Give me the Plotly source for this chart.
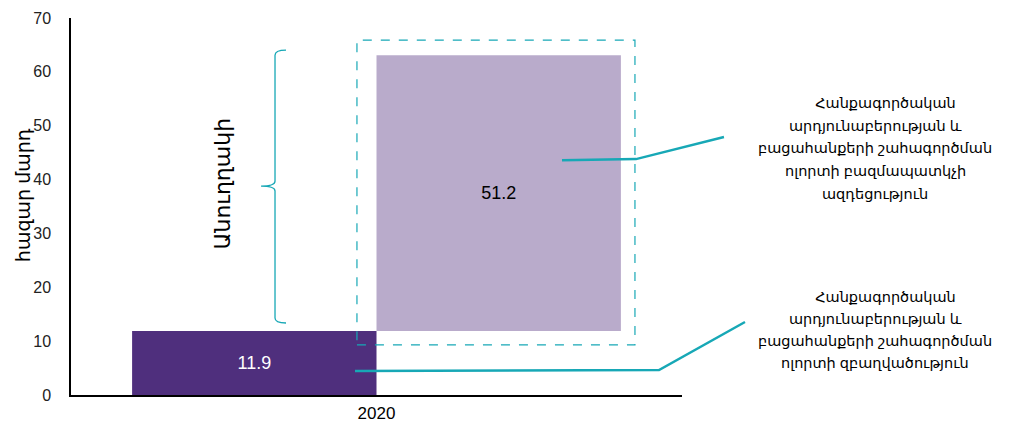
import plotly.graph_objects as go

categories = ["2020"]
direct_values = [11.9]
indirect_values = [51.2]
y_ticks = [0, 10, 20, 30, 40, 50, 60, 70]

y_title = "հազար մարդ"
brace_label = "Անուղղակի"
IND = "\u00a0" * 5
note_indirect_lines = [IND + "Հանքագործական", "արդյունաբերության և", "բացահանքերի շահագործման",
                       "ոլորտի բազմապատկչի", "ազդեցություն"]
note_direct_lines = [IND + "Հանքագործական", "արդյունաբերության և", "բացահանքերի շահագործման",
                     "ոլորտի զբաղվածություն"]

DARK = "#4F2F7D"
LIGHT = "#B9ABCB"
TEAL = "#17A8B6"
FONT = "Liberation Sans, Arial, DejaVu Sans, sans-serif"

fig = go.Figure()
fig.add_trace(go.Bar(
    x=categories, y=direct_values, base=[0],
    marker=dict(color=DARK, line=dict(width=0)),
    text=[f"{v:.1f}" for v in direct_values], textposition="inside",
    insidetextanchor="middle", textfont=dict(color="white", size=18, family=FONT),
    showlegend=False, hoverinfo="skip"))
fig.add_trace(go.Bar(
    x=categories, y=indirect_values, base=direct_values,
    marker=dict(color=LIGHT, line=dict(width=0)),
    text=[f"{v:.1f}" for v in indirect_values], textposition="inside",
    insidetextanchor="middle", textfont=dict(color="black", size=18, family=FONT),
    showlegend=False, hoverinfo="skip"))

shapes = []
# dashed box around indirect bar
shapes.append(dict(type="rect", xref="paper", yref="y", x0=0.468, x1=0.923,
                   y0=9.3, y1=65.9, line=dict(color=TEAL, width=1.2, dash="dash"),
                   fillcolor="rgba(0,0,0,0)", layer="above"))
# brace
bx, hx, tx = 0.3339, 0.3519, 0.311
brace = (f"M {hx},64.05 Q {bx},64.05 {bx},63.1 L {bx},39.7 "
         f"Q {bx},38.8 {tx},38.8 Q {bx},38.8 {bx},37.9 L {bx},14.3 "
         f"Q {bx},13.37 {hx},13.37")
shapes.append(dict(type="path", xref="paper", yref="y", path=brace,
                   line=dict(color=TEAL, width=1.3)))
# leader lines
shapes.append(dict(type="path", xref="paper", yref="y",
                   path="M 0.8036,43.6 L 0.9247,43.8 L 1.0687,47.9",
                   line=dict(color=TEAL, width=2.5)))
shapes.append(dict(type="path", xref="paper", yref="y",
                   path="M 0.4648,4.46 L 0.9624,4.64 L 1.1031,13.55",
                   line=dict(color=TEAL, width=2.5)))

annotations = [
    dict(text=y_title, xref="paper", yref="y", x=-0.0786, y=37.1, textangle=-90,
         xanchor="center", yanchor="middle",
         showarrow=False, font=dict(size=19, color="black", family=FONT)),
    dict(text=brace_label, xref="paper", yref="y", x=0.248, y=39.2, textangle=-90,
         xanchor="center", yanchor="middle",
         showarrow=False, font=dict(size=22, color="black", family=FONT)),
]
for i, line in enumerate(note_indirect_lines):
    annotations.append(dict(text=line, xref="paper", yref="y", x=1.3159, y=54.2 - i * 4.2,
                            showarrow=False, xanchor="center", yanchor="middle",
                            font=dict(size=14.5, color="black", family=FONT)))
for i, line in enumerate(note_direct_lines):
    annotations.append(dict(text=line, xref="paper", yref="y", x=1.3159, y=18.2 - i * 4.1,
                            showarrow=False, xanchor="center", yanchor="middle",
                            font=dict(size=14.5, color="black", family=FONT)))

# page body adds an 8px offset, so the figure is sized/margined to compensate
fig.update_layout(
    width=1005, height=418,
    margin=dict(l=63, r=331, t=10, b=31, autoexpand=False),
    paper_bgcolor="white", plot_bgcolor="white",
    barmode="group", bargap=0.2, bargroupgap=0,
    shapes=shapes, annotations=annotations,
    font=dict(family=FONT, color="black"),
    xaxis=dict(showline=True, linecolor="black", linewidth=2, ticks="",
               automargin=False, ticklabelstandoff=2,
               tickfont=dict(size=17, color="black"), showgrid=False),
    yaxis=dict(range=[0, 70], tickvals=y_ticks, showline=True, linecolor="black",
               linewidth=1.5, ticks="", showgrid=False, zeroline=False,
               automargin=False, ticklabelstandoff=15,
               tickfont=dict(size=16, color="#222")),
)

fig.write_html("out.html")
